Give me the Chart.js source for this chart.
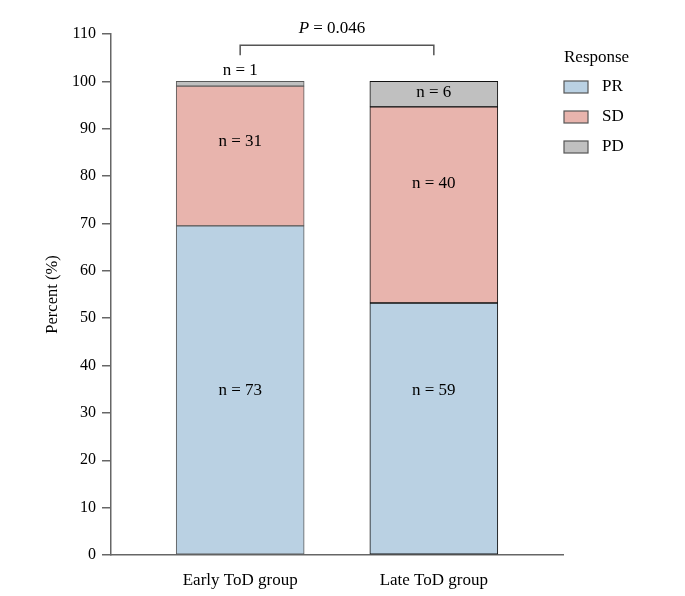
<!DOCTYPE html>
<html>
<head>
<meta charset="utf-8">
<script src="https://cdn.jsdelivr.net/npm/chart.js@4"></script>
<style>
  html, body { margin: 0; padding: 0; background: #fff; }
  #wrap { width: 685px; height: 596px; }
</style>
</head>
<body>
<div id="wrap"><canvas id="chart"></canvas></div>
<script>
const groups = ['Early ToD group', 'Late ToD group'];
const responses = ['PR', 'SD', 'PD'];
const prPct = [69.5, 53.2];
const sdPct = [29.5, 41.4];
const pdPct = [1.0, 5.4];
const prN = [73, 59];
const sdN = [31, 40];
const pdN = [1, 6];
// where the "n = " labels sit, in percent units
const prLabelY = [34.8, 34.8];
const sdLabelY = [87.2, 78.5];
const pdLabelY = [102.3, 97.6];
const pValue = '0.046';
const bracketTop = 107.6;
const bracketFoot = 105.5;

const colors = ['#bad1e3', '#e8b4ad', '#c0c0c0'];
const edge = ['#5a5a5a', '#111111'];
const serif = '"Liberation Serif", "Times New Roman", serif';

const toPoints = arr => arr.map((v, i) => ({ x: i + 1, y: v }));

const datasets = [prPct, sdPct, pdPct].map((vals, k) => ({
    label: responses[k],
    data: toPoints(vals),
    backgroundColor: colors[k],
    borderColor: edge,
    borderWidth: 1,
    borderSkipped: false,
    barThickness: 128,
}));

const counts = [prN, sdN, pdN];
const labelYs = [prLabelY, sdLabelY, pdLabelY];

const extras = {
    id: 'extras',
    afterDraw(chart) {
        const ctx = chart.ctx;
        const xs = chart.scales.x;
        const ys = chart.scales.y;
        ctx.save();
        ctx.fillStyle = '#000';
        ctx.font = '17px ' + serif;
        ctx.textAlign = 'center';
        ctx.textBaseline = 'middle';
        counts.forEach((arr, k) => {
            arr.forEach((n, i) => {
                ctx.fillText('n = ' + n, xs.getPixelForValue(i + 1), ys.getPixelForValue(labelYs[k][i]));
            });
        });

        // significance bracket
        const x1 = xs.getPixelForValue(1);
        const x2 = xs.getPixelForValue(2);
        const yt = ys.getPixelForValue(bracketTop);
        const yf = ys.getPixelForValue(bracketFoot);
        ctx.strokeStyle = '#555';
        ctx.lineWidth = 1.5;
        ctx.beginPath();
        ctx.moveTo(x1, yf);
        ctx.lineTo(x1, yt);
        ctx.lineTo(x2, yt);
        ctx.lineTo(x2, yf);
        ctx.stroke();

        const rest = ' = ' + pValue;
        ctx.font = 'italic 17px ' + serif;
        const wP = ctx.measureText('P').width;
        ctx.font = '17px ' + serif;
        const wR = ctx.measureText(rest).width;
        const cx = (x1 + x2) / 2 - 5;
        const ty = yt - 17;
        ctx.textAlign = 'left';
        ctx.font = 'italic 17px ' + serif;
        ctx.fillText('P', cx - (wP + wR) / 2, ty);
        ctx.font = '17px ' + serif;
        ctx.fillText(rest, cx - (wP + wR) / 2 + wP, ty);

        // legend
        const lx = chart.chartArea.right + 1;
        ctx.font = '17px ' + serif;
        ctx.fillText('Response', lx, 58);
        responses.forEach((r, k) => {
            const y = 87 + k * 30;
            ctx.fillStyle = colors[k];
            ctx.fillRect(lx, y - 6, 24, 12);
            ctx.strokeStyle = '#555';
            ctx.lineWidth = 1.2;
            ctx.strokeRect(lx, y - 6, 24, 12);
            ctx.fillStyle = '#000';
            ctx.fillText(r, lx + 38, y);
        });
        ctx.restore();
    }
};

new Chart(document.getElementById('chart'), {
    type: 'bar',
    data: { datasets: datasets },
    options: {
        responsive: true,
        maintainAspectRatio: false,
        animation: false,
        layout: { padding: { top: 34, right: 122, left: 0, bottom: 0 } },
        plugins: {
            legend: { display: false },
            tooltip: { enabled: false },
        },
        scales: {
            x: {
                type: 'linear',
                stacked: true,
                offset: false,
                min: 0.333,
                max: 2.667,
                afterBuildTicks: s => { s.ticks = [{ value: 1 }, { value: 2 }]; },
                afterFit: s => { s.height = 41; },
                grid: { display: false, drawTicks: false },
                border: { display: true, color: '#666', width: 1.5 },
                ticks: {
                    autoSkip: false,
                    maxRotation: 0,
                    padding: 15,
                    color: '#000',
                    font: { family: serif, size: 17 },
                    callback: v => groups[v - 1],
                },
            },
            y: {
                stacked: true,
                min: 0,
                max: 110,
                afterFit: s => { s.width = 111; },
                grid: { display: true, drawOnChartArea: false, drawTicks: true, tickLength: 9, color: '#666', lineWidth: 1.5 },
                border: { display: true, color: '#666', width: 1.5 },
                ticks: {
                    stepSize: 10,
                    padding: 6,
                    color: '#000',
                    font: { family: serif, size: 16 },
                },
                title: {
                    display: true,
                    text: 'Percent (%)',
                    color: '#000',
                    padding: { top: 43 },
                    font: { family: serif, size: 16.5 },
                },
            },
        },
    },
    plugins: [extras],
});
</script>
</body>
</html>
